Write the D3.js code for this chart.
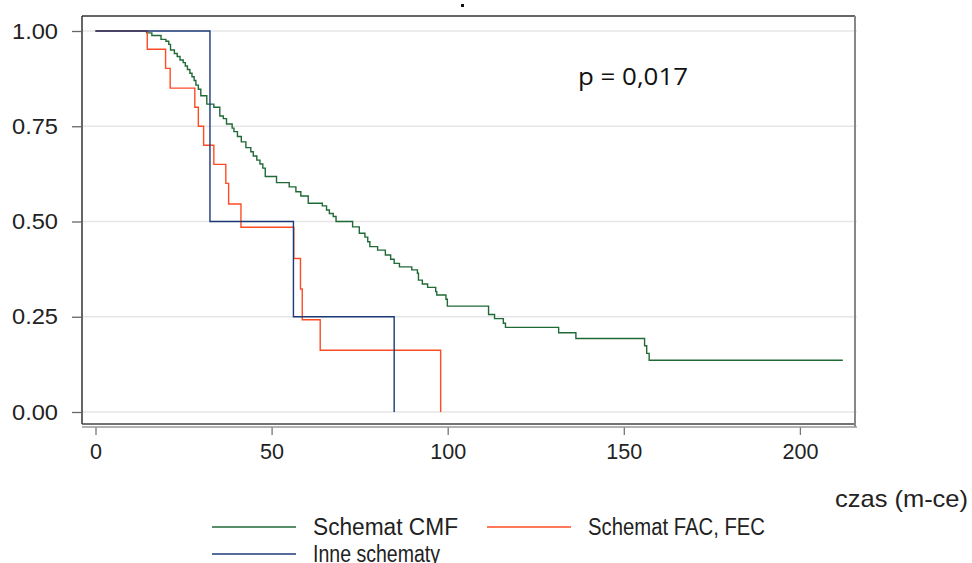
<html lang="en">
<head>
<meta charset="utf-8">
<script src="https://cdnjs.cloudflare.com/ajax/libs/d3/7.7.0/d3.min.js"></script>
<style>
html, body { margin: 0; padding: 0; background: #fff; }
svg { font-family: 'Liberation Sans', Arial, sans-serif; }
</style>
</head>
<body>
<svg width="972" height="563"></svg>
<script>
// survival curves, [months, survival]
const cmfTimes = [0, 14.5, 16.0, 18.6, 20.0, 20.8, 21.3, 22.4, 23.2, 24.0, 24.9, 25.5, 26.1, 26.8, 27.4, 28.0, 28.5, 29.2, 29.9, 31.6, 33.6, 35.3, 36.3, 37.2, 38.8, 39.3, 40.3, 41.4, 42.7, 44.1, 44.8, 45.8, 46.7, 47.5, 48.2, 51.4, 55.0, 56.9, 58.3, 60.4, 64.4, 65.6, 66.4, 67.5, 68.3, 73.0, 74.9, 76.5, 77.3, 77.9, 80.1, 82.3, 83.8, 84.8, 86.3, 89.8, 91.4, 91.7, 92.8, 94.3, 96.6, 96.9, 99.5, 99.9, 111.6, 113.3, 115.8, 116.4, 131.5, 136.4, 155.9, 156.5, 157.2, 212.2];
const cmfSurv = [1, 0.995, 0.988, 0.978, 0.973, 0.965, 0.950, 0.941, 0.933, 0.924, 0.917, 0.908, 0.899, 0.889, 0.880, 0.870, 0.858, 0.847, 0.830, 0.808, 0.800, 0.777, 0.770, 0.756, 0.745, 0.736, 0.723, 0.709, 0.694, 0.683, 0.672, 0.661, 0.651, 0.640, 0.618, 0.602, 0.591, 0.578, 0.567, 0.548, 0.541, 0.530, 0.521, 0.513, 0.500, 0.486, 0.469, 0.459, 0.447, 0.434, 0.425, 0.412, 0.401, 0.390, 0.381, 0.373, 0.364, 0.346, 0.336, 0.327, 0.316, 0.307, 0.296, 0.278, 0.256, 0.245, 0.233, 0.222, 0.208, 0.193, 0.174, 0.154, 0.136, 0.136];

const facTimes = [0, 14.7, 19.9, 21.2, 28.2, 29.2, 30.7, 33.6, 37.0, 37.8, 41.3, 56.3, 58.2, 58.7, 63.8, 98.0];
const facSurv = [1, 0.952, 0.902, 0.850, 0.800, 0.750, 0.700, 0.650, 0.600, 0.546, 0.485, 0.403, 0.323, 0.242, 0.162, 0];

const otherTimes = [0, 32.5, 56.2, 84.8];
const otherSurv = [1, 0.5, 0.25, 0];

const xTicks = [0, 50, 100, 150, 200];
const yTicks = [0, 0.25, 0.5, 0.75, 1];

const seriesNames = ['Schemat CMF', 'Schemat FAC, FEC', 'Inne schematy'];
const seriesColors = ['#1f6a36', '#ff4b24', '#1c3a78'];

const narrow = "'Liberation Sans Narrow', 'Arial Narrow', 'Liberation Sans', Arial, sans-serif";

const svg = d3.select('svg');

const x = d3.scaleLinear().domain([0, 200]).range([95.5, 799.9]);
const y = d3.scaleLinear().domain([0, 1]).range([412, 31]);

const frame = { left: 82, top: 16, right: 855, bottom: 424 };

// gridlines
svg.append('g')
  .selectAll('line')
  .data(yTicks)
  .enter()
  .append('line')
  .attr('x1', frame.left)
  .attr('x2', frame.right + 2)
  .attr('y1', d => y(d))
  .attr('y2', d => y(d))
  .attr('stroke', '#e6e6e6')
  .attr('stroke-width', 1.5);

// plot frame
svg.append('line').attr('x1', frame.left).attr('x2', frame.right).attr('y1', frame.top).attr('y2', frame.top)
  .attr('stroke', '#333').attr('stroke-width', 1.5);
svg.append('line').attr('x1', frame.left).attr('x2', frame.left).attr('y1', frame.top).attr('y2', frame.bottom)
  .attr('stroke', '#333').attr('stroke-width', 1.5);
svg.append('line').attr('x1', frame.left).attr('x2', frame.right).attr('y1', frame.bottom).attr('y2', frame.bottom)
  .attr('stroke', '#444').attr('stroke-width', 1.5);
svg.append('line').attr('x1', frame.right).attr('x2', frame.right).attr('y1', frame.top).attr('y2', frame.bottom + 3)
  .attr('stroke', '#888').attr('stroke-width', 2);

// y axis
const yAxis = svg.append('g')
  .attr('transform', `translate(${frame.left},0)`)
  .call(d3.axisLeft(y).tickValues(yTicks).tickSize(10).tickPadding(14).tickFormat(d3.format('.2f')));
yAxis.select('.domain').remove();
yAxis.selectAll('.tick line').attr('stroke', '#666').attr('stroke-width', 1.3);
yAxis.selectAll('.tick text')
  .attr('font-size', 22)
  .attr('fill', '#222')
  .attr('font-family', "'Liberation Sans', Arial, sans-serif")
  .attr('textLength', 46)
  .attr('lengthAdjust', 'spacingAndGlyphs');

// x axis
const xAxis = svg.append('g')
  .attr('transform', `translate(0,427)`)
  .call(d3.axisBottom(x).tickValues(xTicks).tickSize(8).tickPadding(8));
xAxis.select('.domain').remove();
xAxis.append('line').attr('x1', frame.left).attr('x2', frame.right + 2).attr('y1', 0).attr('y2', 0)
  .attr('stroke', '#999').attr('stroke-width', 1.5);
xAxis.selectAll('.tick line').attr('stroke', '#777').attr('stroke-width', 1.3);
xAxis.selectAll('.tick text')
  .attr('font-size', 22)
  .attr('fill', '#222')
  .attr('font-family', narrow)
  .attr('textLength', d => String(d).length * 12)
  .attr('lengthAdjust', 'spacingAndGlyphs');

// curves
const line = d3.line()
  .x(d => x(d[0]))
  .y(d => y(d[1]))
  .curve(d3.curveStepAfter);

const series = [
  d3.zip(cmfTimes, cmfSurv),
  d3.zip(facTimes, facSurv),
  d3.zip(otherTimes, otherSurv)
];

svg.append('g')
  .selectAll('path')
  .data(series)
  .enter()
  .append('path')
  .attr('d', d => line(d))
  .attr('fill', 'none')
  .attr('stroke', (d, i) => seriesColors[i])
  .attr('stroke-width', 1.4);

// title remnant
svg.append('rect').attr('x', 461).attr('y', 4).attr('width', 3).attr('height', 3).attr('fill', '#111');

// p-value
svg.append('text')
  .attr('x', 578)
  .attr('y', 85)
  .attr('font-size', 24)
  .attr('font-family', "'Open Sans', 'Noto Sans', sans-serif")
  .attr('fill', '#111')
  .attr('textLength', 110)
  .attr('lengthAdjust', 'spacingAndGlyphs')
  .text('p = 0,017');

// x label
svg.append('text')
  .attr('x', 968)
  .attr('y', 507)
  .attr('text-anchor', 'end')
  .attr('font-size', 24)
  .attr('font-family', narrow)
  .attr('fill', '#222')
  .attr('textLength', 133)
  .attr('lengthAdjust', 'spacingAndGlyphs')
  .text('czas (m-ce)');

// legend
const legendItems = [
  { x: 212, y: 527, w: 145 },
  { x: 487, y: 527, w: 177 },
  { x: 212, y: 554, w: 127 }
];

const legend = svg.append('g')
  .selectAll('g')
  .data(legendItems)
  .enter()
  .append('g')
  .attr('transform', d => `translate(${d.x},${d.y})`);

legend.append('line')
  .attr('x1', 0)
  .attr('x2', 84)
  .attr('stroke', (d, i) => seriesColors[i])
  .attr('stroke-width', 1.4);

legend.append('text')
  .attr('x', 101)
  .attr('y', 8)
  .attr('font-size', 23)
  .attr('font-family', narrow)
  .attr('fill', '#222')
  .attr('textLength', d => d.w)
  .attr('lengthAdjust', 'spacingAndGlyphs')
  .text((d, i) => seriesNames[i]);
</script>
</body>
</html>
